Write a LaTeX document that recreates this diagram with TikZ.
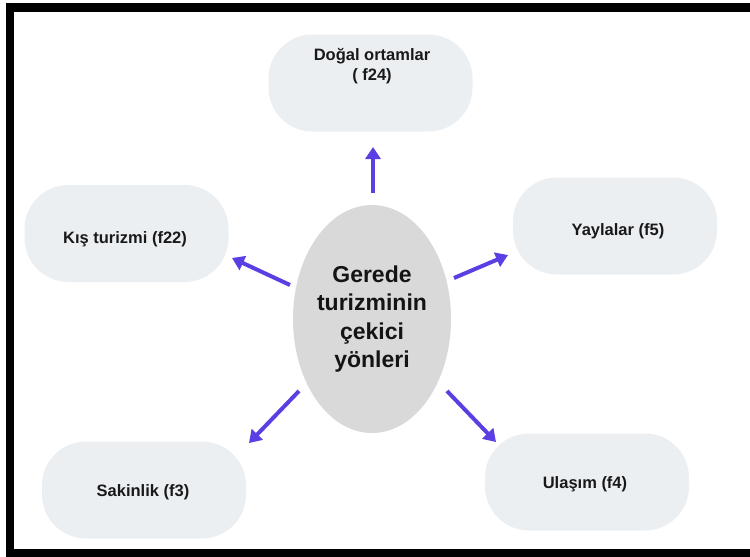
\documentclass[tikz,border=0pt]{standalone}
\usepackage{fontspec}
\setmainfont{Liberation Sans}
\usetikzlibrary{shapes.geometric,arrows.meta}
\definecolor{boxfill}{HTML}{ECEFF2}
\definecolor{ellfill}{HTML}{D9D9D9}
\definecolor{arrcol}{HTML}{5B3FE3}
\tikzset{
  pill/.style={fill=boxfill, draw=none, rounded corners=44pt, minimum width=204pt, minimum height=97pt, inner sep=0pt},
  boxtext/.style={font=\fontsize{16.5}{20.5}\selectfont\bfseries, text=black!90, align=center, inner sep=0pt},
  arr/.style={draw=arrcol, line width=4pt, -{Triangle[width=15pt,length=12pt]}}
}
\begin{document}
\begin{tikzpicture}[x=1pt,y=-1pt]
\useasboundingbox (0,0) rectangle (750,557);
\fill[black] (6,3) rectangle (750,557);
\fill[white] (14,12) rectangle (750,549);
% boxes
\node[pill] (top) at (370.5,83) {};
\node[pill] (kis) at (126.5,233.5) {};
\node[pill] (yay) at (615,226) {};
\node[pill] (sak) at (144,490) {};
\node[pill] (ula) at (587,482) {};
% texts
\node[boxtext] (ttop) at (372,66) {Doğal ortamlar\\( f24)};
\node[boxtext] (tkis) at (125,239) {Kış turizmi (f22)};
\node[boxtext] (tyay) at (618,231) {Yaylalar (f5)};
\node[boxtext] (tsak) at (143,492) {Sakinlik (f3)};
\node[boxtext] (tula) at (585,484) {Ulaşım (f4)};
% centre
\node[ellipse, fill=ellfill, minimum width=158pt, minimum height=228pt, inner sep=0pt,
      font=\fontsize{23}{28.5}\selectfont\bfseries, align=center, text=black!92] (ell) at (372,319)
      {Gerede\\turizminin\\çekici\\yönleri};
% arrows
\coordinate (s1) at (373,193); \coordinate (e1) at (373,147);
\coordinate (s2) at (290,285); \coordinate (e2) at (232,258);
\coordinate (s3) at (454,278); \coordinate (e3) at (508,255);
\coordinate (s4) at (299,391); \coordinate (e4) at (249,443);
\coordinate (s5) at (447,391); \coordinate (e5) at (496,442);
\draw[arr] (s1) -- (e1);
\draw[arr] (s2) -- (e2);
\draw[arr] (s3) -- (e3);
\draw[arr] (s4) -- (e4);
\draw[arr] (s5) -- (e5);
\end{tikzpicture}
\end{document}
